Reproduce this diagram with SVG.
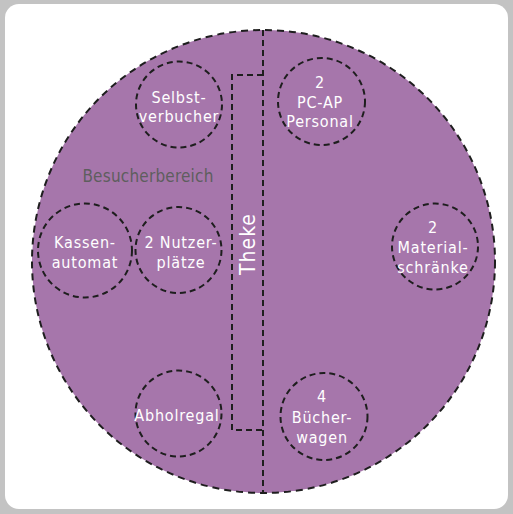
<svg xmlns="http://www.w3.org/2000/svg" width="513" height="514" viewBox="0 0 513 514">
<style>
.bg{fill:#c3c3c3}
.card{fill:#ffffff}
.area{fill:#a676ab;stroke:#1e1e1e;stroke-width:2;stroke-dasharray:7 5}
.node circle{fill:none;stroke:#1e1e1e;stroke-width:2;stroke-dasharray:6 4}
.lbl{font-family:"DejaVu Sans Condensed","Liberation Sans Narrow","DejaVu Sans",sans-serif;font-stretch:condensed;font-size:16px;letter-spacing:0.8px;fill:#ffffff;text-anchor:middle}
.zone{font-family:"DejaVu Sans Condensed","Liberation Sans Narrow","DejaVu Sans",sans-serif;font-stretch:condensed;font-size:17px;letter-spacing:0.2px;fill:#5e5e5e;text-anchor:middle}
.line{fill:none;stroke:#1e1e1e;stroke-width:2;stroke-dasharray:6 4}
</style>
<rect class="bg" x="0" y="0" width="513" height="514"/>
<rect class="card" x="5" y="4" width="503" height="505" rx="14"/>
<circle class="area" cx="263.5" cy="261.5" r="231.5"/>
<g id="connectors">
<line class="line" x1="263" y1="30" x2="263" y2="493"/>
</g>
<g id="theke">
<path class="line" d="M263,75 H232 V430 H263"/>
<text class="lbl" style="font-size:21px;letter-spacing:1px" transform="translate(255,244) rotate(-90)">Theke</text>
</g>
<g id="besucherbereich">
<text class="zone" x="148" y="182">Besucherbereich</text>
</g>
<g id="selbstverbucher" class="node">
<circle cx="179" cy="104.5" r="43"/>
<text class="lbl" x="179" y="103">Selbst-</text>
<text class="lbl" x="179" y="122">verbucher</text>
</g>
<g id="pcap" class="node">
<circle cx="321.5" cy="101.5" r="43.5"/>
<text class="lbl" x="320" y="88">2</text>
<text class="lbl" x="320" y="108">PC-AP</text>
<text class="lbl" x="320" y="127">Personal</text>
</g>
<g id="kassenautomat" class="node">
<circle cx="85" cy="250.5" r="47"/>
<text class="lbl" x="85" y="248">Kassen-</text>
<text class="lbl" x="85" y="268">automat</text>
</g>
<g id="nutzerplaetze" class="node">
<circle cx="178.5" cy="250" r="43"/>
<text class="lbl" x="181" y="248">2 Nutzer-</text>
<text class="lbl" x="181" y="268">plätze</text>
</g>
<g id="materialschraenke" class="node">
<circle cx="435" cy="246.5" r="43"/>
<text class="lbl" x="433" y="233">2</text>
<text class="lbl" x="433" y="253">Material-</text>
<text class="lbl" x="433" y="273">schränke</text>
</g>
<g id="abholregal" class="node">
<circle cx="178.5" cy="413.5" r="43"/>
<text class="lbl" x="177" y="421">Abholregal</text>
</g>
<g id="buecherwagen" class="node">
<circle cx="324" cy="416.5" r="43.5"/>
<text class="lbl" x="322" y="402">4</text>
<text class="lbl" x="322" y="423">Bücher-</text>
<text class="lbl" x="322" y="443">wagen</text>
</g>
</svg>
